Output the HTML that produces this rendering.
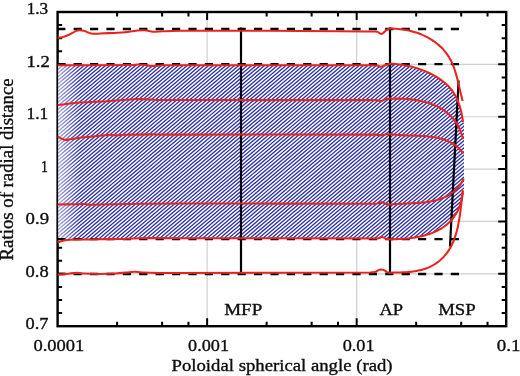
<!DOCTYPE html>
<html lang="en"><head><meta charset="utf-8"><title>Ratios of radial distance</title>
<style>html,body{margin:0;padding:0;background:#fff;}svg{display:block;}text{font-family:"Liberation Serif",serif;font-size:17.6px;fill:#0c0c0c;stroke:#0c0c0c;stroke-width:0.35px;}</style>
</head><body>
<svg width="520" height="376" viewBox="0 0 520 376">
<defs>
<clipPath id="hc"><polygon points="58.20,65.30 100.00,65.30 130.00,65.10 137.50,64.50 145.00,65.00 152.50,66.00 160.00,65.40 180.00,65.20 300.00,65.20 370.00,65.30 377.00,65.60 381.00,66.70 385.00,65.20 390.00,63.70 392.66,63.79 395.24,64.00 397.84,64.28 400.44,64.62 403.04,65.03 405.65,65.50 408.26,66.03 410.86,66.62 413.45,67.29 416.02,68.02 418.59,68.82 421.13,69.69 423.65,70.63 426.14,71.64 428.60,72.73 431.02,73.88 433.41,75.12 435.74,76.43 438.01,77.82 440.22,79.30 442.35,80.85 444.40,82.50 446.36,84.23 448.22,86.05 449.97,87.96 451.61,89.97 453.12,92.07 454.51,94.27 455.78,96.55 456.94,98.91 457.98,101.34 458.92,103.83 459.76,106.36 460.51,108.94 461.16,111.55 461.74,114.18 462.23,116.83 462.65,119.48 463.01,122.14 464.00,123.00 464.00,190.00 462.70,190.30 462.56,192.93 462.28,195.53 461.88,198.09 461.35,200.61 460.69,203.09 459.91,205.52 459.00,207.89 457.97,210.19 456.83,212.42 455.56,214.57 454.18,216.64 452.68,218.61 451.07,220.49 449.35,222.27 447.53,223.94 445.60,225.51 443.59,226.97 441.49,228.34 439.32,229.61 437.09,230.79 434.79,231.87 432.45,232.86 430.06,233.75 427.64,234.56 425.19,235.29 422.71,235.94 420.21,236.51 417.70,237.01 415.16,237.45 412.62,237.83 410.08,238.16 407.54,238.43 405.00,238.65 402.47,238.84 399.95,238.99 397.45,239.10 394.97,239.19 392.52,239.25 390.00,239.30 386.00,238.70 382.00,237.00 379.00,238.00 375.00,238.45 180.00,238.20 140.00,238.20 120.00,239.00 100.00,239.20 85.00,239.50 70.00,239.70 64.00,240.50 60.00,241.70 58.20,242.20"/></clipPath>
<linearGradient id="fade" x1="0" y1="0" x2="1" y2="0"><stop offset="0" stop-color="#fff" stop-opacity="0.60"/><stop offset="1" stop-color="#fff" stop-opacity="0"/></linearGradient>
<filter id="soft" x="-2%" y="-2%" width="104%" height="104%"><feGaussianBlur stdDeviation="0.38"/></filter>
</defs>
<g filter="url(#soft)">
<rect x="0" y="0" width="520" height="376" fill="#fff"/>
<line x1="207.13" y1="12.00" x2="207.13" y2="326.20" stroke="#c9d1d1" stroke-width="1.20"/>
<line x1="356.67" y1="12.00" x2="356.67" y2="326.20" stroke="#c9d1d1" stroke-width="1.20"/>
<line x1="57.60" y1="64.37" x2="506.20" y2="64.37" stroke="#c9d1d1" stroke-width="1.20"/>
<line x1="57.60" y1="116.73" x2="506.20" y2="116.73" stroke="#c9d1d1" stroke-width="1.20"/>
<line x1="57.60" y1="169.10" x2="506.20" y2="169.10" stroke="#c9d1d1" stroke-width="1.20"/>
<line x1="57.60" y1="221.47" x2="506.20" y2="221.47" stroke="#c9d1d1" stroke-width="1.20"/>
<line x1="57.60" y1="273.83" x2="506.20" y2="273.83" stroke="#c9d1d1" stroke-width="1.20"/>
<rect x="57.60" y="12.00" width="448.60" height="314.20" fill="none" stroke="#000" stroke-width="2.40"/>
<path d="M117.11 326.20v-4.50M117.11 12.00v4.50M162.12 326.20v-4.50M162.12 12.00v4.50M188.45 326.20v-4.50M188.45 12.00v4.50M207.13 326.20v-8.00M207.13 12.00v8.00M266.64 326.20v-4.50M266.64 12.00v4.50M311.65 326.20v-4.50M311.65 12.00v4.50M337.98 326.20v-4.50M337.98 12.00v4.50M356.67 326.20v-8.00M356.67 12.00v8.00M416.17 326.20v-4.50M416.17 12.00v4.50M461.19 326.20v-4.50M461.19 12.00v4.50M487.52 326.20v-4.50M487.52 12.00v4.50M57.60 313.11h4.50M506.20 313.11h-4.50M57.60 300.02h4.50M506.20 300.02h-4.50M57.60 286.93h4.50M506.20 286.93h-4.50M57.60 273.83h8.00M506.20 273.83h-8.00M57.60 260.74h4.50M506.20 260.74h-4.50M57.60 247.65h4.50M506.20 247.65h-4.50M57.60 234.56h4.50M506.20 234.56h-4.50M57.60 221.47h8.00M506.20 221.47h-8.00M57.60 208.38h4.50M506.20 208.38h-4.50M57.60 195.28h4.50M506.20 195.28h-4.50M57.60 182.19h4.50M506.20 182.19h-4.50M57.60 169.10h8.00M506.20 169.10h-8.00M57.60 156.01h4.50M506.20 156.01h-4.50M57.60 142.92h4.50M506.20 142.92h-4.50M57.60 129.83h4.50M506.20 129.83h-4.50M57.60 116.73h8.00M506.20 116.73h-8.00M57.60 103.64h4.50M506.20 103.64h-4.50M57.60 90.55h4.50M506.20 90.55h-4.50M57.60 77.46h4.50M506.20 77.46h-4.50M57.60 64.37h8.00M506.20 64.37h-8.00M57.60 51.27h4.50M506.20 51.27h-4.50M57.60 38.18h4.50M506.20 38.18h-4.50M57.60 25.09h4.50M506.20 25.09h-4.50" fill="none" stroke="#000" stroke-width="2.00"/>
<polygon points="58.20,65.30 100.00,65.30 130.00,65.10 137.50,64.50 145.00,65.00 152.50,66.00 160.00,65.40 180.00,65.20 300.00,65.20 370.00,65.30 377.00,65.60 381.00,66.70 385.00,65.20 390.00,63.70 392.66,63.79 395.24,64.00 397.84,64.28 400.44,64.62 403.04,65.03 405.65,65.50 408.26,66.03 410.86,66.62 413.45,67.29 416.02,68.02 418.59,68.82 421.13,69.69 423.65,70.63 426.14,71.64 428.60,72.73 431.02,73.88 433.41,75.12 435.74,76.43 438.01,77.82 440.22,79.30 442.35,80.85 444.40,82.50 446.36,84.23 448.22,86.05 449.97,87.96 451.61,89.97 453.12,92.07 454.51,94.27 455.78,96.55 456.94,98.91 457.98,101.34 458.92,103.83 459.76,106.36 460.51,108.94 461.16,111.55 461.74,114.18 462.23,116.83 462.65,119.48 463.01,122.14 464.00,123.00 464.00,190.00 462.70,190.30 462.56,192.93 462.28,195.53 461.88,198.09 461.35,200.61 460.69,203.09 459.91,205.52 459.00,207.89 457.97,210.19 456.83,212.42 455.56,214.57 454.18,216.64 452.68,218.61 451.07,220.49 449.35,222.27 447.53,223.94 445.60,225.51 443.59,226.97 441.49,228.34 439.32,229.61 437.09,230.79 434.79,231.87 432.45,232.86 430.06,233.75 427.64,234.56 425.19,235.29 422.71,235.94 420.21,236.51 417.70,237.01 415.16,237.45 412.62,237.83 410.08,238.16 407.54,238.43 405.00,238.65 402.47,238.84 399.95,238.99 397.45,239.10 394.97,239.19 392.52,239.25 390.00,239.30 386.00,238.70 382.00,237.00 379.00,238.00 375.00,238.45 180.00,238.20 140.00,238.20 120.00,239.00 100.00,239.20 85.00,239.50 70.00,239.70 64.00,240.50 60.00,241.70 58.20,242.20" fill="#fff"/>
<g clip-path="url(#hc)"><path d="M-163.15 246.0L56.17 60.0M-158.85 246.0L60.47 60.0M-154.56 246.0L64.77 60.0M-150.26 246.0L69.07 60.0M-145.96 246.0L73.36 60.0M-141.66 246.0L77.66 60.0M-137.36 246.0L81.96 60.0M-133.07 246.0L86.26 60.0M-128.77 246.0L90.56 60.0M-124.47 246.0L94.85 60.0M-120.17 246.0L99.15 60.0M-115.87 246.0L103.45 60.0M-111.58 246.0L107.75 60.0M-107.28 246.0L112.05 60.0M-102.98 246.0L116.34 60.0M-98.68 246.0L120.64 60.0M-94.38 246.0L124.94 60.0M-90.08 246.0L129.24 60.0M-85.79 246.0L133.54 60.0M-81.49 246.0L137.84 60.0M-77.19 246.0L142.13 60.0M-72.89 246.0L146.43 60.0M-68.59 246.0L150.73 60.0M-64.30 246.0L155.03 60.0M-60.00 246.0L159.33 60.0M-55.70 246.0L163.62 60.0M-51.40 246.0L167.92 60.0M-47.10 246.0L172.22 60.0M-42.80 246.0L176.52 60.0M-38.51 246.0L180.82 60.0M-34.21 246.0L185.12 60.0M-29.91 246.0L189.41 60.0M-25.61 246.0L193.71 60.0M-21.31 246.0L198.01 60.0M-17.02 246.0L202.31 60.0M-12.72 246.0L206.61 60.0M-8.42 246.0L210.90 60.0M-4.12 246.0L215.20 60.0M0.18 246.0L219.50 60.0M4.47 246.0L223.80 60.0M8.77 246.0L228.10 60.0M13.07 246.0L232.39 60.0M17.37 246.0L236.69 60.0M21.67 246.0L240.99 60.0M25.97 246.0L245.29 60.0M30.26 246.0L249.59 60.0M34.56 246.0L253.89 60.0M38.86 246.0L258.18 60.0M43.16 246.0L262.48 60.0M47.46 246.0L266.78 60.0M51.75 246.0L271.08 60.0M56.05 246.0L275.38 60.0M60.35 246.0L279.67 60.0M64.65 246.0L283.97 60.0M68.95 246.0L288.27 60.0M73.25 246.0L292.57 60.0M77.54 246.0L296.87 60.0M81.84 246.0L301.17 60.0M86.14 246.0L305.46 60.0M90.44 246.0L309.76 60.0M94.74 246.0L314.06 60.0M99.03 246.0L318.36 60.0M103.33 246.0L322.66 60.0M107.63 246.0L326.95 60.0M111.93 246.0L331.25 60.0M116.23 246.0L335.55 60.0M120.52 246.0L339.85 60.0M124.82 246.0L344.15 60.0M129.12 246.0L348.44 60.0M133.42 246.0L352.74 60.0M137.72 246.0L357.04 60.0M142.02 246.0L361.34 60.0M146.31 246.0L365.64 60.0M150.61 246.0L369.94 60.0M154.91 246.0L374.23 60.0M159.21 246.0L378.53 60.0M163.51 246.0L382.83 60.0M167.80 246.0L387.13 60.0M172.10 246.0L391.43 60.0M176.40 246.0L395.72 60.0M180.70 246.0L400.02 60.0M185.00 246.0L404.32 60.0M189.30 246.0L408.62 60.0M193.59 246.0L412.92 60.0M197.89 246.0L417.22 60.0M202.19 246.0L421.51 60.0M206.49 246.0L425.81 60.0M210.79 246.0L430.11 60.0M215.08 246.0L434.41 60.0M219.38 246.0L438.71 60.0M223.68 246.0L443.00 60.0M227.98 246.0L447.30 60.0M232.28 246.0L451.60 60.0M236.57 246.0L455.90 60.0M240.87 246.0L460.20 60.0M245.17 246.0L464.49 60.0M249.47 246.0L468.79 60.0M253.77 246.0L473.09 60.0M258.07 246.0L477.39 60.0M262.36 246.0L481.69 60.0M266.66 246.0L485.99 60.0M270.96 246.0L490.28 60.0M275.26 246.0L494.58 60.0M279.56 246.0L498.88 60.0M283.85 246.0L503.18 60.0M288.15 246.0L507.48 60.0M292.45 246.0L511.77 60.0M296.75 246.0L516.07 60.0M301.05 246.0L520.37 60.0M305.35 246.0L524.67 60.0M309.64 246.0L528.97 60.0M313.94 246.0L533.27 60.0M318.24 246.0L537.56 60.0M322.54 246.0L541.86 60.0M326.84 246.0L546.16 60.0M331.13 246.0L550.46 60.0M335.43 246.0L554.76 60.0M339.73 246.0L559.05 60.0M344.03 246.0L563.35 60.0M348.33 246.0L567.65 60.0M352.63 246.0L571.95 60.0M356.92 246.0L576.25 60.0M361.22 246.0L580.54 60.0M365.52 246.0L584.84 60.0M369.82 246.0L589.14 60.0M374.12 246.0L593.44 60.0M378.41 246.0L597.74 60.0M382.71 246.0L602.04 60.0M387.01 246.0L606.33 60.0M391.31 246.0L610.63 60.0M395.61 246.0L614.93 60.0M399.90 246.0L619.23 60.0M404.20 246.0L623.53 60.0M408.50 246.0L627.82 60.0M412.80 246.0L632.12 60.0M417.10 246.0L636.42 60.0M421.40 246.0L640.72 60.0M425.69 246.0L645.02 60.0M429.99 246.0L649.32 60.0M434.29 246.0L653.61 60.0M438.59 246.0L657.91 60.0M442.89 246.0L662.21 60.0M447.18 246.0L666.51 60.0M451.48 246.0L670.81 60.0M455.78 246.0L675.10 60.0M460.08 246.0L679.40 60.0M464.38 246.0L683.70 60.0" fill="none" stroke="#2a30a8" stroke-width="1.30"/><rect x="58.20" y="60" width="22.00" height="190" fill="url(#fade)"/></g>
<line x1="57.2" y1="29.00" x2="459.8" y2="29.00" stroke="#000" stroke-width="2.30" stroke-dasharray="8.2 8.2"/>
<line x1="57.2" y1="64.20" x2="459.8" y2="64.20" stroke="#000" stroke-width="2.30" stroke-dasharray="8.2 8.2"/>
<line x1="57.2" y1="239.20" x2="459.8" y2="239.20" stroke="#000" stroke-width="2.30" stroke-dasharray="8.2 8.2"/>
<line x1="57.2" y1="274.00" x2="459.8" y2="274.00" stroke="#000" stroke-width="2.30" stroke-dasharray="8.2 8.2"/>
<line x1="241" y1="27.5" x2="241" y2="274" stroke="#000" stroke-width="2.20"/>
<line x1="390" y1="27.5" x2="390" y2="273.5" stroke="#000" stroke-width="2.20"/>
<line x1="458.6" y1="80.5" x2="450" y2="246.5" stroke="#000" stroke-width="2.20"/>
<path d="M57.60 37.80 C58.33 37.72 60.77 37.55 62.00 37.30 C63.23 37.05 63.83 36.72 65.00 36.30 C66.17 35.88 67.75 35.38 69.00 34.80 C70.25 34.22 71.33 33.42 72.50 32.80 C73.67 32.18 74.92 31.52 76.00 31.10 C77.08 30.68 78.00 30.42 79.00 30.30 C80.00 30.18 81.00 30.27 82.00 30.40 C83.00 30.53 84.00 30.75 85.00 31.10 C86.00 31.45 87.00 32.10 88.00 32.50 C89.00 32.90 89.83 33.28 91.00 33.50 C92.17 33.72 93.50 33.78 95.00 33.80 C96.50 33.82 97.17 33.75 100.00 33.60 C102.83 33.45 107.83 33.12 112.00 32.90 C116.17 32.68 121.67 32.57 125.00 32.30 C128.33 32.03 129.92 31.62 132.00 31.30 C134.08 30.98 135.33 30.57 137.50 30.40 C139.67 30.23 143.08 30.20 145.00 30.30 C146.92 30.40 147.75 30.75 149.00 31.00 C150.25 31.25 151.00 31.70 152.50 31.80 C154.00 31.90 156.33 31.68 158.00 31.60 C159.67 31.52 158.83 31.43 162.50 31.30 C166.17 31.17 172.58 30.88 180.00 30.80 C187.42 30.72 196.83 30.80 207.00 30.80 C217.17 30.80 225.50 30.78 241.00 30.80 C256.50 30.82 283.50 30.82 300.00 30.90 C316.50 30.98 329.17 31.20 340.00 31.30 C350.83 31.40 359.17 31.47 365.00 31.50 C370.83 31.53 372.83 31.40 375.00 31.50 C377.17 31.60 377.00 31.68 378.00 32.10 C379.00 32.52 380.08 33.88 381.00 34.00 C381.92 34.12 382.67 33.42 383.50 32.80 C384.33 32.18 384.92 31.00 386.00 30.30 C387.08 29.60 388.86 28.87 390.00 28.60 C391.14 28.33 391.88 28.68 392.84 28.71 C393.81 28.74 394.81 28.74 395.80 28.78 C396.79 28.82 397.77 28.89 398.76 28.97 C399.75 29.05 400.74 29.15 401.72 29.27 C402.71 29.40 403.69 29.54 404.67 29.70 C405.65 29.85 406.63 30.03 407.61 30.23 C408.58 30.43 409.55 30.65 410.52 30.88 C411.49 31.12 412.45 31.37 413.40 31.65 C414.36 31.92 415.31 32.21 416.25 32.52 C417.19 32.83 418.13 33.16 419.05 33.51 C419.98 33.86 420.90 34.23 421.81 34.61 C422.72 35.00 423.62 35.40 424.51 35.82 C425.39 36.25 426.27 36.69 427.14 37.15 C428.00 37.60 428.86 38.08 429.70 38.58 C430.54 39.07 431.37 39.58 432.19 40.11 C433.00 40.65 433.80 41.19 434.59 41.76 C435.37 42.33 436.14 42.91 436.89 43.51 C437.65 44.12 438.39 44.74 439.11 45.37 C439.83 46.01 440.53 46.67 441.21 47.34 C441.89 48.01 442.56 48.70 443.21 49.41 C443.85 50.12 444.48 50.84 445.08 51.58 C445.68 52.33 446.27 53.08 446.83 53.86 C447.39 54.64 447.93 55.43 448.45 56.24 C448.96 57.05 449.45 57.88 449.92 58.72 C450.39 59.56 450.84 60.43 451.26 61.30 C451.69 62.17 452.09 63.06 452.48 63.96 C452.87 64.86 453.23 65.77 453.59 66.69 C453.94 67.61 454.27 68.55 454.59 69.49 C454.91 70.43 455.22 71.38 455.51 72.33 C455.80 73.28 456.08 74.25 456.35 75.21 C456.63 76.18 456.88 77.15 457.14 78.12 C457.39 79.09 457.63 80.07 457.87 81.04 C458.11 82.02 458.34 82.99 458.57 83.97 C458.79 84.94 459.02 85.91 459.24 86.88 C459.46 87.85 459.68 88.82 459.90 89.78 C460.12 90.74 460.33 91.70 460.56 92.64 C460.78 93.59 461.00 94.53 461.23 95.46 C461.46 96.40 461.69 97.32 461.93 98.23 C462.17 99.14 462.54 100.48 462.67 100.93" fill="none" stroke="#e8241c" stroke-width="2.05" stroke-linejoin="round" stroke-linecap="butt"/>
<path d="M57.60 65.30 C64.67 65.30 87.93 65.33 100.00 65.30 C112.07 65.27 123.75 65.23 130.00 65.10 C136.25 64.97 135.00 64.52 137.50 64.50 C140.00 64.48 142.50 64.75 145.00 65.00 C147.50 65.25 150.00 65.93 152.50 66.00 C155.00 66.07 155.42 65.53 160.00 65.40 C164.58 65.27 160.00 65.23 180.00 65.20 C203.33 65.17 268.33 65.18 300.00 65.20 C331.67 65.22 357.17 65.23 370.00 65.30 C377.00 65.37 375.17 65.37 377.00 65.60 C378.83 65.83 379.67 66.77 381.00 66.70 C382.33 66.63 383.50 65.70 385.00 65.20 C386.50 64.70 388.72 63.94 390.00 63.70 C391.28 63.46 391.79 63.74 392.66 63.79 C393.53 63.84 394.38 63.92 395.24 64.00 C396.10 64.09 396.97 64.18 397.84 64.28 C398.70 64.39 399.57 64.50 400.44 64.62 C401.31 64.75 402.17 64.88 403.04 65.03 C403.91 65.17 404.78 65.33 405.65 65.50 C406.52 65.66 407.39 65.84 408.26 66.03 C409.12 66.22 409.99 66.41 410.86 66.62 C411.72 66.83 412.59 67.06 413.45 67.29 C414.31 67.52 415.17 67.76 416.02 68.02 C416.88 68.28 417.74 68.54 418.59 68.82 C419.44 69.10 420.28 69.39 421.13 69.69 C421.97 69.99 422.81 70.30 423.65 70.63 C424.48 70.96 425.31 71.29 426.14 71.64 C426.96 71.99 427.78 72.35 428.60 72.73 C429.41 73.10 430.22 73.49 431.02 73.88 C431.82 74.28 432.62 74.69 433.41 75.12 C434.19 75.54 434.97 75.98 435.74 76.43 C436.51 76.88 437.27 77.34 438.01 77.82 C438.76 78.30 439.50 78.79 440.22 79.30 C440.94 79.80 441.65 80.32 442.35 80.85 C443.05 81.39 443.73 81.93 444.40 82.50 C445.07 83.06 445.72 83.64 446.36 84.23 C447.00 84.82 447.62 85.43 448.22 86.05 C448.82 86.67 449.41 87.31 449.97 87.96 C450.54 88.62 451.08 89.29 451.61 89.97 C452.14 90.66 452.64 91.36 453.12 92.07 C453.61 92.79 454.07 93.53 454.51 94.27 C454.96 95.02 455.38 95.78 455.78 96.55 C456.19 97.33 456.57 98.12 456.94 98.91 C457.30 99.71 457.65 100.52 457.98 101.34 C458.31 102.16 458.62 102.99 458.92 103.83 C459.22 104.66 459.50 105.51 459.76 106.36 C460.02 107.21 460.27 108.07 460.51 108.94 C460.74 109.80 460.96 110.67 461.16 111.55 C461.37 112.42 461.56 113.30 461.74 114.18 C461.91 115.06 462.08 115.95 462.23 116.83 C462.38 117.71 462.52 118.60 462.65 119.48 C462.78 120.37 462.95 121.69 463.01 122.14" fill="none" stroke="#e8241c" stroke-width="2.05" stroke-linejoin="round" stroke-linecap="butt"/>
<path d="M57.60 105.10 C58.33 105.02 59.93 104.85 62.00 104.60 C64.07 104.35 67.00 103.93 70.00 103.60 C73.00 103.27 75.00 102.93 80.00 102.60 C85.00 102.27 94.17 101.93 100.00 101.60 C105.83 101.27 110.00 100.93 115.00 100.60 C120.00 100.27 126.33 99.88 130.00 99.60 C133.67 99.32 133.67 98.90 137.00 98.90 C140.33 98.90 142.83 99.40 150.00 99.60 C157.17 99.80 150.00 100.02 180.00 100.10 C216.67 100.18 337.00 100.05 370.00 100.10 C378.00 100.15 376.17 100.23 378.00 100.40 C379.83 100.57 379.83 101.27 381.00 101.10 C382.17 100.93 383.50 99.82 385.00 99.40 C386.50 98.98 388.78 98.72 390.00 98.60 C391.22 98.48 391.55 98.68 392.31 98.69 C393.08 98.70 393.83 98.65 394.59 98.64 C395.35 98.62 396.12 98.62 396.90 98.62 C397.67 98.62 398.44 98.62 399.22 98.63 C400.00 98.65 400.78 98.66 401.56 98.69 C402.35 98.72 403.13 98.75 403.92 98.79 C404.71 98.83 405.50 98.88 406.28 98.93 C407.07 98.99 407.86 99.05 408.65 99.12 C409.44 99.19 410.24 99.27 411.03 99.36 C411.82 99.45 412.61 99.55 413.39 99.65 C414.18 99.76 414.97 99.87 415.76 100.00 C416.54 100.12 417.32 100.25 418.11 100.40 C418.89 100.54 419.67 100.69 420.44 100.86 C421.22 101.02 421.99 101.19 422.76 101.38 C423.53 101.56 424.29 101.76 425.05 101.96 C425.81 102.17 426.57 102.38 427.32 102.61 C428.07 102.84 428.81 103.08 429.55 103.33 C430.29 103.58 431.03 103.84 431.75 104.12 C432.48 104.39 433.20 104.68 433.91 104.98 C434.63 105.28 435.33 105.59 436.03 105.91 C436.73 106.24 437.42 106.58 438.10 106.93 C438.79 107.28 439.46 107.64 440.12 108.02 C440.79 108.40 441.44 108.79 442.09 109.20 C442.73 109.60 443.37 110.02 443.99 110.46 C444.62 110.89 445.23 111.34 445.84 111.81 C446.44 112.27 447.03 112.75 447.61 113.24 C448.19 113.73 448.76 114.24 449.32 114.76 C449.87 115.28 450.42 115.81 450.95 116.36 C451.48 116.91 452.00 117.47 452.51 118.05 C453.01 118.63 453.50 119.22 453.98 119.82 C454.46 120.42 454.92 121.04 455.37 121.67 C455.82 122.31 456.26 122.95 456.67 123.61 C457.09 124.27 457.50 124.94 457.89 125.62 C458.28 126.31 458.65 127.01 459.01 127.72 C459.36 128.43 459.70 129.15 460.03 129.89 C460.35 130.63 460.66 131.38 460.95 132.15 C461.24 132.91 461.51 133.69 461.76 134.47 C462.01 135.26 462.25 136.07 462.47 136.88 C462.68 137.70 462.96 138.95 463.06 139.36" fill="none" stroke="#e8241c" stroke-width="2.05" stroke-linejoin="round" stroke-linecap="butt"/>
<path d="M57.60 136.35 C58.17 136.68 59.77 137.77 61.00 138.35 C62.23 138.93 63.50 139.68 65.00 139.85 C66.50 140.02 67.50 139.68 70.00 139.35 C72.50 139.02 75.83 138.35 80.00 137.85 C84.17 137.35 90.83 136.77 95.00 136.35 C99.17 135.93 102.50 135.63 105.00 135.35 C107.50 135.07 108.33 134.65 110.00 134.65 C111.67 134.65 112.50 135.32 115.00 135.35 C117.50 135.38 119.17 135.02 125.00 134.85 C130.83 134.68 140.83 134.39 150.00 134.35 C159.17 134.31 150.00 134.56 180.00 134.60 C217.50 134.64 341.50 134.47 375.00 134.60 C381.00 134.72 379.17 135.39 381.00 135.35 C382.83 135.31 384.50 134.55 386.00 134.35 C387.50 134.15 388.99 134.16 390.00 134.15 C391.01 134.14 391.40 134.23 392.06 134.30 C392.72 134.37 393.31 134.47 393.95 134.55 C394.58 134.62 395.22 134.69 395.86 134.75 C396.51 134.82 397.16 134.87 397.81 134.93 C398.46 134.98 399.12 135.03 399.78 135.07 C400.43 135.11 401.10 135.15 401.76 135.19 C402.43 135.23 403.10 135.26 403.77 135.29 C404.44 135.32 405.12 135.35 405.79 135.37 C406.47 135.40 407.15 135.42 407.83 135.44 C408.51 135.47 409.19 135.49 409.88 135.51 C410.56 135.53 411.25 135.55 411.94 135.57 C412.62 135.59 413.31 135.61 414.00 135.63 C414.69 135.65 415.38 135.67 416.07 135.70 C416.76 135.72 417.45 135.74 418.14 135.77 C418.83 135.80 419.52 135.83 420.21 135.86 C420.89 135.90 421.58 135.93 422.27 135.97 C422.96 136.01 423.65 136.06 424.33 136.11 C425.02 136.15 425.70 136.21 426.38 136.26 C427.06 136.32 427.75 136.39 428.42 136.46 C429.10 136.53 429.78 136.60 430.45 136.68 C431.13 136.77 431.80 136.85 432.46 136.95 C433.13 137.05 433.80 137.15 434.46 137.26 C435.12 137.37 435.78 137.49 436.43 137.62 C437.09 137.75 437.74 137.89 438.39 138.04 C439.03 138.18 439.68 138.34 440.31 138.51 C440.95 138.67 441.58 138.85 442.21 139.04 C442.84 139.23 443.46 139.43 444.08 139.64 C444.70 139.85 445.31 140.07 445.92 140.31 C446.53 140.55 447.13 140.79 447.72 141.05 C448.32 141.32 448.90 141.59 449.49 141.88 C450.07 142.17 450.64 142.47 451.21 142.79 C451.78 143.10 452.34 143.43 452.89 143.78 C453.45 144.13 453.99 144.49 454.53 144.87 C455.07 145.25 455.60 145.64 456.12 146.05 C456.65 146.46 457.16 146.89 457.66 147.34 C458.17 147.78 458.67 148.25 459.15 148.73 C459.64 149.21 460.12 149.71 460.59 150.23 C461.06 150.75 461.52 151.28 461.97 151.84 C462.42 152.40 463.07 153.29 463.29 153.57" fill="none" stroke="#e8241c" stroke-width="2.05" stroke-linejoin="round" stroke-linecap="butt"/>
<path d="M57.60 204.50 C59.67 204.47 65.43 204.38 70.00 204.30 C74.57 204.22 81.67 203.92 85.00 204.00 C88.33 204.08 87.50 204.72 90.00 204.80 C92.50 204.88 93.33 204.63 100.00 204.50 C106.67 204.37 116.67 204.17 130.00 204.00 C143.33 203.83 139.17 203.54 180.00 203.50 C220.83 203.46 341.83 203.80 375.00 203.75 C379.00 203.70 377.83 203.44 379.00 203.20 C380.17 202.96 380.83 202.17 382.00 202.30 C383.17 202.43 384.67 203.62 386.00 204.00 C387.33 204.38 388.98 204.55 390.00 204.60 C391.02 204.65 391.44 204.35 392.13 204.27 C392.81 204.20 393.45 204.17 394.12 204.13 C394.79 204.08 395.47 204.04 396.15 204.01 C396.83 203.97 397.52 203.93 398.20 203.90 C398.89 203.86 399.59 203.83 400.28 203.80 C400.98 203.77 401.68 203.75 402.38 203.72 C403.08 203.69 403.79 203.66 404.50 203.63 C405.20 203.61 405.91 203.58 406.63 203.55 C407.34 203.52 408.05 203.50 408.77 203.47 C409.49 203.44 410.20 203.41 410.92 203.37 C411.64 203.34 412.36 203.30 413.08 203.27 C413.80 203.23 414.52 203.19 415.24 203.14 C415.96 203.10 416.68 203.05 417.40 203.00 C418.12 202.95 418.84 202.89 419.56 202.83 C420.27 202.77 420.99 202.71 421.71 202.64 C422.42 202.57 423.14 202.49 423.85 202.41 C424.56 202.33 425.27 202.24 425.98 202.14 C426.69 202.05 427.39 201.95 428.10 201.84 C428.80 201.73 429.50 201.61 430.19 201.49 C430.89 201.36 431.58 201.23 432.27 201.08 C432.96 200.94 433.64 200.79 434.32 200.63 C435.00 200.47 435.68 200.30 436.35 200.12 C437.02 199.94 437.69 199.75 438.35 199.55 C439.01 199.35 439.66 199.13 440.31 198.91 C440.96 198.68 441.60 198.45 442.24 198.20 C442.88 197.95 443.51 197.69 444.13 197.42 C444.75 197.15 445.37 196.86 445.98 196.56 C446.59 196.26 447.19 195.95 447.78 195.62 C448.38 195.29 448.96 194.95 449.54 194.59 C450.12 194.24 450.68 193.87 451.24 193.48 C451.80 193.09 452.35 192.69 452.89 192.27 C453.44 191.85 453.97 191.41 454.49 190.96 C455.01 190.51 455.52 190.04 456.02 189.55 C456.52 189.07 457.01 188.56 457.49 188.04 C457.97 187.52 458.44 186.98 458.90 186.42 C459.35 185.86 459.80 185.28 460.23 184.68 C460.67 184.08 461.09 183.47 461.50 182.83 C461.90 182.19 462.30 181.53 462.68 180.86 C463.07 180.18 463.61 179.11 463.79 178.76" fill="none" stroke="#e8241c" stroke-width="2.05" stroke-linejoin="round" stroke-linecap="butt"/>
<path d="M57.60 242.20 C58.00 242.12 58.93 241.98 60.00 241.70 C61.07 241.42 62.33 240.83 64.00 240.50 C65.67 240.17 66.50 239.87 70.00 239.70 C73.50 239.53 80.00 239.58 85.00 239.50 C90.00 239.42 94.17 239.28 100.00 239.20 C105.83 239.12 113.33 239.17 120.00 239.00 C126.67 238.83 130.00 238.33 140.00 238.20 C150.00 238.07 140.83 238.16 180.00 238.20 C219.17 238.24 341.83 238.48 375.00 238.45 C379.00 238.42 377.83 238.24 379.00 238.00 C380.17 237.76 380.83 236.88 382.00 237.00 C383.17 237.12 384.67 238.32 386.00 238.70 C387.33 239.08 388.91 239.21 390.00 239.30 C391.09 239.39 391.69 239.27 392.52 239.25 C393.35 239.23 394.15 239.21 394.97 239.19 C395.79 239.16 396.62 239.13 397.45 239.10 C398.28 239.07 399.11 239.03 399.95 238.99 C400.79 238.94 401.63 238.89 402.47 238.84 C403.31 238.78 404.15 238.72 405.00 238.65 C405.84 238.59 406.69 238.51 407.54 238.43 C408.38 238.35 409.23 238.26 410.08 238.16 C410.93 238.06 411.78 237.95 412.62 237.83 C413.47 237.72 414.32 237.59 415.16 237.45 C416.01 237.32 416.85 237.17 417.70 237.01 C418.54 236.86 419.38 236.69 420.21 236.51 C421.05 236.33 421.88 236.14 422.71 235.94 C423.54 235.73 424.37 235.52 425.19 235.29 C426.01 235.06 426.83 234.82 427.64 234.56 C428.46 234.31 429.26 234.04 430.06 233.75 C430.87 233.47 431.66 233.17 432.45 232.86 C433.24 232.54 434.02 232.21 434.79 231.87 C435.57 231.52 436.33 231.16 437.09 230.79 C437.84 230.41 438.59 230.02 439.32 229.61 C440.06 229.21 440.78 228.78 441.49 228.34 C442.20 227.90 442.90 227.45 443.59 226.97 C444.27 226.50 444.95 226.01 445.60 225.51 C446.26 225.00 446.90 224.48 447.53 223.94 C448.15 223.40 448.76 222.84 449.35 222.27 C449.94 221.69 450.52 221.10 451.07 220.49 C451.63 219.88 452.17 219.26 452.68 218.61 C453.20 217.97 453.70 217.31 454.18 216.64 C454.66 215.96 455.12 215.27 455.56 214.57 C456.00 213.87 456.43 213.15 456.83 212.42 C457.23 211.69 457.61 210.94 457.97 210.19 C458.34 209.43 458.68 208.66 459.00 207.89 C459.32 207.11 459.63 206.32 459.91 205.52 C460.19 204.72 460.45 203.91 460.69 203.09 C460.93 202.27 461.15 201.45 461.35 200.61 C461.55 199.78 461.72 198.94 461.88 198.09 C462.03 197.24 462.17 196.39 462.28 195.53 C462.39 194.66 462.49 193.80 462.56 192.93 C462.62 192.06 462.67 190.74 462.70 190.30" fill="none" stroke="#e8241c" stroke-width="2.05" stroke-linejoin="round" stroke-linecap="butt"/>
<path d="M57.60 274.60 C58.33 274.57 59.93 274.60 62.00 274.40 C64.07 274.20 67.33 273.65 70.00 273.40 C72.67 273.15 75.50 272.87 78.00 272.90 C80.50 272.93 81.33 273.43 85.00 273.60 C88.67 273.77 95.00 273.93 100.00 273.90 C105.00 273.87 110.33 273.65 115.00 273.40 C119.67 273.15 124.67 272.67 128.00 272.40 C131.33 272.13 132.67 271.77 135.00 271.80 C137.33 271.83 137.83 272.38 142.00 272.60 C146.17 272.82 153.67 273.05 160.00 273.10 C166.33 273.15 160.00 273.02 180.00 272.90 C215.00 272.78 337.50 272.57 370.00 272.40 C375.00 272.23 373.67 272.23 375.00 271.90 C376.33 271.57 377.00 270.78 378.00 270.40 C379.00 270.02 380.00 269.65 381.00 269.60 C382.00 269.55 383.00 269.68 384.00 270.10 C385.00 270.52 386.00 271.65 387.00 272.10 C388.00 272.55 388.97 272.72 390.00 272.80 C391.03 272.88 392.11 272.60 393.18 272.56 C394.25 272.51 395.32 272.54 396.41 272.52 C397.49 272.50 398.59 272.48 399.69 272.45 C400.79 272.42 401.90 272.39 403.02 272.34 C404.13 272.29 405.25 272.23 406.37 272.16 C407.48 272.08 408.60 272.00 409.72 271.89 C410.84 271.78 411.96 271.66 413.07 271.51 C414.18 271.36 415.28 271.20 416.38 271.00 C417.48 270.81 418.57 270.60 419.65 270.35 C420.73 270.11 421.80 269.84 422.86 269.53 C423.92 269.23 424.96 268.90 425.99 268.53 C427.01 268.16 428.03 267.76 429.02 267.32 C430.01 266.88 430.98 266.40 431.94 265.89 C432.89 265.38 433.82 264.84 434.73 264.26 C435.64 263.69 436.53 263.08 437.40 262.44 C438.26 261.80 439.10 261.13 439.92 260.43 C440.74 259.73 441.53 259.01 442.30 258.25 C443.06 257.50 443.80 256.72 444.51 255.92 C445.22 255.12 445.90 254.29 446.56 253.44 C447.21 252.59 447.83 251.71 448.43 250.82 C449.02 249.93 449.58 249.01 450.12 248.08 C450.65 247.15 451.16 246.20 451.64 245.23 C452.12 244.26 452.57 243.28 453.01 242.28 C453.44 241.28 453.84 240.27 454.23 239.24 C454.61 238.21 454.97 237.17 455.32 236.12 C455.66 235.07 455.98 234.01 456.28 232.94 C456.59 231.87 456.87 230.79 457.14 229.70 C457.41 228.61 457.66 227.52 457.90 226.42 C458.13 225.32 458.36 224.21 458.57 223.11 C458.78 222.00 458.97 220.88 459.16 219.77 C459.35 218.66 459.53 217.54 459.69 216.43 C459.86 215.32 460.02 214.20 460.17 213.09 C460.33 211.98 460.47 210.87 460.61 209.76 C460.75 208.66 460.89 207.56 461.02 206.46 C461.15 205.37 461.28 204.28 461.41 203.20 C461.54 202.12 461.67 201.05 461.80 199.98 C461.93 198.92 462.06 197.87 462.19 196.83 C462.32 195.79 462.46 194.76 462.60 193.74 C462.74 192.73 462.96 191.24 463.03 190.74" fill="none" stroke="#e8241c" stroke-width="2.05" stroke-linejoin="round" stroke-linecap="butt"/>
<text id="t0" x="26.65" y="14.40" textLength="21.60" lengthAdjust="spacingAndGlyphs">1.3</text>
<text id="t1" x="26.45" y="66.77" textLength="23.30" lengthAdjust="spacingAndGlyphs">1.2</text>
<text id="t2" x="26.45" y="119.33" textLength="21.80" lengthAdjust="spacingAndGlyphs">1.1</text>
<text id="t3" x="41.00" y="171.50" textLength="6.90" lengthAdjust="spacingAndGlyphs">1</text>
<text id="t4" x="25.60" y="223.87" textLength="23.45" lengthAdjust="spacingAndGlyphs">0.9</text>
<text id="t5" x="25.60" y="276.63" textLength="23.20" lengthAdjust="spacingAndGlyphs">0.8</text>
<text id="t6" x="25.55" y="328.80" textLength="22.90" lengthAdjust="spacingAndGlyphs">0.7</text>
<text id="t7" x="33.40" y="350.60" textLength="50.95" lengthAdjust="spacingAndGlyphs">0.0001</text>
<text id="t8" x="188.05" y="350.60" textLength="40.95" lengthAdjust="spacingAndGlyphs">0.001</text>
<text id="t9" x="342.65" y="350.60" textLength="31.95" lengthAdjust="spacingAndGlyphs">0.01</text>
<text id="t10" x="496.75" y="350.60" textLength="23.75" lengthAdjust="spacingAndGlyphs">0.1</text>
<text id="t11" x="171.50" y="371.40" textLength="221.10" lengthAdjust="spacingAndGlyphs">Poloidal spherical angle (rad)</text>
<text id="t12" x="224.25" y="315.20" textLength="37.95" lengthAdjust="spacingAndGlyphs">MFP</text>
<text id="t13" x="379.50" y="315.20" textLength="23.60" lengthAdjust="spacingAndGlyphs">AP</text>
<text id="t14" x="438.15" y="315.20" textLength="37.60" lengthAdjust="spacingAndGlyphs">MSP</text>
<text id="ylab" style="font-size:17.8px" transform="translate(13.4 260.40) rotate(-90)" x="0" y="0" textLength="181.95" lengthAdjust="spacingAndGlyphs">Ratios of radial distance</text>
</g>
</svg>
</body></html>
